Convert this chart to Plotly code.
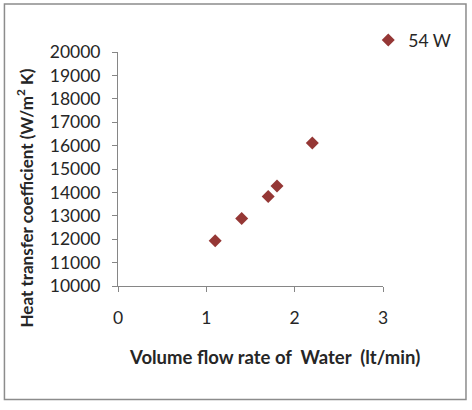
import plotly.graph_objects as go

flow = [1.1, 1.4, 1.7, 1.8, 2.2]
htc = [11930, 12880, 13820, 14270, 16110]
series_name = "54 W"
x_ticks = [0, 1, 2, 3]
y_ticks = list(range(10000, 20001, 1000))

FONT = "Lato"
TXT = "#262626"
L, R, T, B = 118.3, 382.7, 52, 286
W, H = 472, 410
pw, ph = R - L, B - T

def px(x):
    return (x - L) / pw

def py(y):
    return (B - y) / ph

fig = go.Figure()
fig.add_trace(go.Scatter(
    x=flow, y=htc, mode="markers", name=series_name,
    marker=dict(symbol="diamond", size=10, color="#953735"),
))

fig.update_layout(
    width=W, height=H,
    margin=dict(l=L, r=W - R, t=T, b=H - B, pad=0),
    paper_bgcolor="white", plot_bgcolor="white",
    font=dict(family=FONT, size=17, color=TXT),
    showlegend=True,
    legend=dict(x=px(368), y=py(22), xanchor="left", yanchor="top",
                font=dict(family=FONT, size=17.5, color=TXT),
                bgcolor="rgba(0,0,0,0)", itemwidth=30, tracegroupgap=0),
    xaxis=dict(range=[0, 3], tickvals=x_ticks, showgrid=False, zeroline=False,
               showline=True, linecolor="#868686", linewidth=1,
               ticks="outside", ticklen=5, tickcolor="#868686",
               ticklabelstandoff=11, tickfont=dict(size=17.5, color=TXT)),
    yaxis=dict(range=[10000, 20000], tickvals=y_ticks, tickformat="d",
               showgrid=False, zeroline=False,
               showline=True, linecolor="#868686", linewidth=1,
               ticks="outside", ticklen=5, tickcolor="#868686",
               ticklabelstandoff=8, tickfont=dict(size=17.5, color=TXT)),
    annotations=[
        dict(text="Volume flow rate of \u00a0Water \u00a0(lt/min)", xref="paper", yref="paper",
             x=px(274.5), y=py(357), xanchor="center", yanchor="middle", showarrow=False,
             font=dict(family=FONT, size=18.5, color=TXT, weight="bold")),
        dict(text="Heat transfer coefficient (W/m<sup>2</sup> K)", xref="paper", yref="paper",
             x=px(25), y=py(198), xanchor="center", yanchor="middle", showarrow=False,
             textangle=-90,
             font=dict(family=FONT, size=17, color=TXT, weight="bold")),
    ],
    shapes=[dict(type="rect", xref="paper", yref="paper",
                 x0=px(5), x1=px(465.5), y0=py(4), y1=py(399.5),
                 line=dict(color="#8c8c8c", width=1.5), fillcolor="rgba(0,0,0,0)", layer="below")],
)

fig.write_html("out.html")
